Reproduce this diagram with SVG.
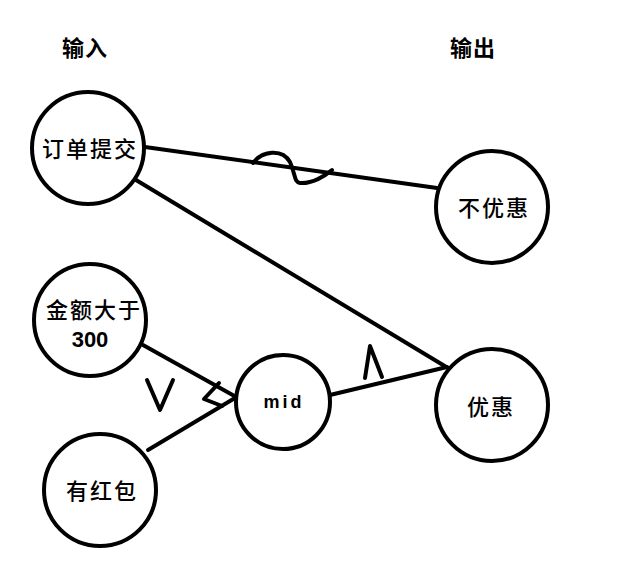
<svg xmlns="http://www.w3.org/2000/svg" width="617" height="563" viewBox="0 0 617 563">
<style>
.n{fill:#fff;stroke:#000;stroke-width:4}
.c{fill:none;stroke:#000;stroke-width:4;stroke-linecap:round;stroke-linejoin:round}
.t{font-family:"Noto Sans CJK SC","Liberation Sans",sans-serif;font-size:22px;font-weight:500;fill:#000;text-anchor:middle;letter-spacing:2px}
.h{font-weight:bold;font-size:22px;letter-spacing:1px}
.d{font-family:"Liberation Sans",sans-serif;letter-spacing:0;font-weight:bold}
</style>
<rect width="617" height="563" fill="#fff"/>
<g id="connectors">
<line class="c" x1="145" y1="147" x2="437" y2="188"/>
<line class="c" x1="136" y1="180" x2="448" y2="368"/>
<line class="c" x1="143" y1="345" x2="238" y2="398"/>
<line class="c" x1="148" y1="450" x2="240" y2="395"/>
<line class="c" x1="330" y1="395" x2="447" y2="367"/>
<path class="c" d="M253,163 C262,151 282,148 290,162 C296,176 294,182 300,183 C312,184 325,176 332,170"/>
<path class="c" d="M147,380 L160,410 L173,380"/>
<path class="c" d="M219,383 L204,399 L222,406"/>
<path class="c" d="M365,378 L370,346 L382,377"/>
</g>
<g id="title-in"><text class="t h" x="85" y="56">输入</text></g>
<g id="title-out"><text class="t h" x="473" y="56">输出</text></g>
<g id="order"><circle class="n" cx="88" cy="148" r="56"/><text class="t" x="90" y="157">订单提交</text></g>
<g id="nodiscount"><circle class="n" cx="492" cy="207" r="56"/><text class="t" x="494" y="216">不优惠</text></g>
<g id="amount"><circle class="n" cx="90" cy="320" r="56"/><text class="t" x="94" y="318">金额大于</text><text class="t d" x="90" y="347">300</text></g>
<g id="redpack"><circle class="n" cx="100" cy="490" r="56"/><text class="t" x="102" y="499">有红包</text></g>
<g id="mid"><circle class="n" cx="283" cy="402" r="47"/><text class="t d" x="284" y="408" style="font-size:18px;letter-spacing:3px">mid</text></g>
<g id="discount"><circle class="n" cx="492" cy="405" r="56"/><text class="t" x="491" y="415">优惠</text></g>
</svg>
